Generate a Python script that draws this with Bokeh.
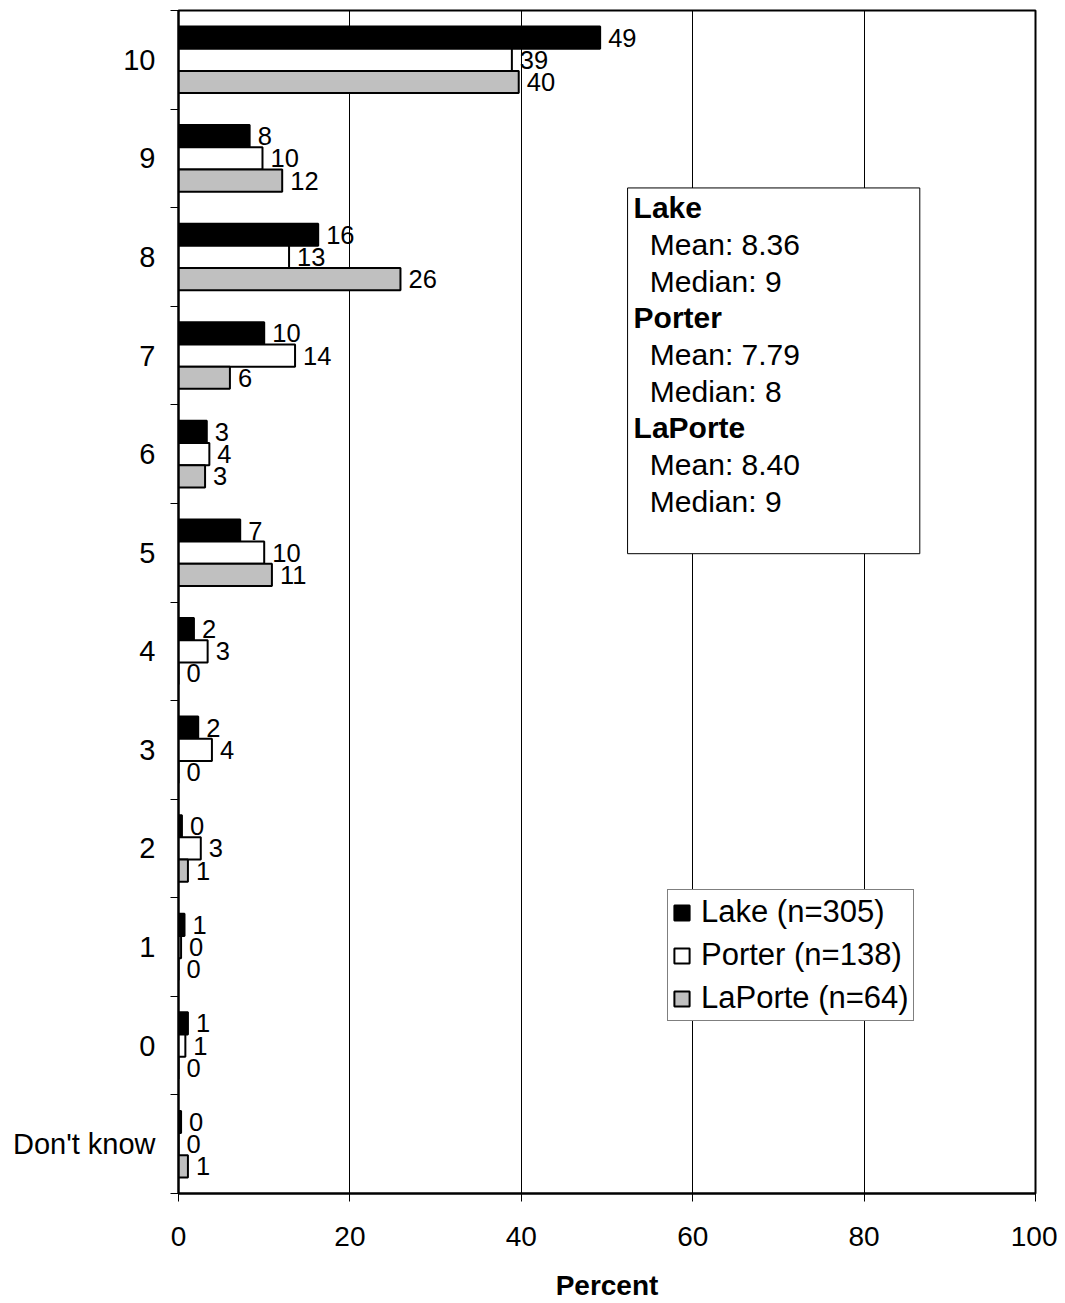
from bokeh.plotting import figure
from bokeh.models import (FixedTicker, Legend, LegendItem, BoxAnnotation, Label,
                          ColumnDataSource, Range1d)
from bokeh.core.properties import value
from bokeh.embed import file_html
from bokeh.resources import INLINE

# ---- data (top to bottom as in the chart) ----
categories = ["10", "9", "8", "7", "6", "5", "4", "3", "2", "1", "0", "Don't know"]
lake = [49.2, 8.3, 16.3, 10.0, 3.3, 7.2, 1.8, 2.3, 0.4, 0.7, 1.1, 0.3]
porter = [38.9, 9.8, 12.9, 13.6, 3.6, 10.0, 3.4, 3.9, 2.6, 0.3, 0.8, 0.0]
laporte = [39.7, 12.1, 25.9, 6.0, 3.1, 10.9, 0.0, 0.0, 1.1, 0.0, 0.0, 1.1]
lake_labels = ["49", "8", "16", "10", "3", "7", "2", "2", "0", "1", "1", "0"]
porter_labels = ["39", "10", "13", "14", "4", "10", "3", "4", "3", "0", "1", "0"]
laporte_labels = ["40", "12", "26", "6", "3", "11", "0", "0", "1", "0", "0", "1"]
series_names = ["Lake (n=305)", "Porter (n=138)", "LaPorte (n=64)"]
stats_lines = [("Lake", True), ("Mean: 8.36", False), ("Median: 9", False),
               ("Porter", True), ("Mean: 7.79", False), ("Median: 8", False),
               ("LaPorte", True), ("Mean: 8.40", False), ("Median: 9", False)]
x_ticks = [0, 20, 40, 60, 80, 100]

FONT = "Liberation Sans"
n = len(categories)
ypos = [n - 1 - i for i in range(n)]  # top category highest
off = 0.225
bar_h = 0.225

p = figure(width=1057, height=1303, output_backend="svg", toolbar_location=None,
           x_range=Range1d(0, 100), y_range=Range1d(-0.5, n - 0.5),
           min_border_left=178, min_border_right=22, min_border_top=10,
           min_border_bottom=110)
p.outline_line_color = "black"
p.outline_line_width = 2
p.background_fill_color = "white"
p.border_fill_color = "white"

colors = ["black", "white", "#c0c0c0"]
vals = [lake, porter, laporte]
labs = [lake_labels, porter_labels, laporte_labels]
offsets = [off, 0.0, -off]
renderers = []
for v, lab, c, o in zip(vals, labs, colors, offsets):
    src = ColumnDataSource(dict(y=[yy + o for yy in ypos], right=v, lab=lab))
    r = p.hbar(y="y", left=0, right="right", height=bar_h, source=src,
               fill_color=c, line_color="black", line_width=2)
    renderers.append(r)
    p.text(x="right", y="y", text="lab", source=src, x_offset=8,
           text_align="left", text_baseline="middle",
           text_font=value(FONT), text_font_size="25.5px", text_color="black")

# axes
p.xaxis.ticker = FixedTicker(ticks=x_ticks)
p.xaxis.axis_line_width = 2
p.xaxis.major_tick_out = 8
p.xaxis.major_tick_in = 0
p.xaxis.minor_tick_out = 0
p.xaxis.major_label_text_font = FONT
p.xaxis.major_label_text_font_size = "28px"
p.xaxis.major_label_text_color = "black"
p.xaxis.major_label_standoff = 25
p.xaxis.axis_label = "Percent"
p.xaxis.axis_label_text_font = FONT
p.xaxis.axis_label_text_font_style = "bold"
p.xaxis.axis_label_text_font_size = "28px"
p.xaxis.axis_label_text_color = "black"
p.xaxis.axis_label_standoff = 21

boundaries = [i - 0.5 for i in range(n + 1)]
p.yaxis.ticker = FixedTicker(ticks=ypos, minor_ticks=boundaries)
p.yaxis.major_label_overrides = {yy: c for yy, c in zip(ypos, categories)}
p.yaxis.axis_line_width = 2
p.yaxis.major_tick_out = 0
p.yaxis.major_tick_in = 0
p.yaxis.minor_tick_out = 8
p.yaxis.minor_tick_in = 0
p.yaxis.minor_tick_line_color = "black"
p.yaxis.major_label_text_font = FONT
p.yaxis.major_label_text_font_size = "29px"
p.yaxis.major_label_text_color = "black"
p.yaxis.major_label_standoff = 15

p.xgrid.ticker = FixedTicker(ticks=x_ticks)
p.xgrid.grid_line_color = "black"
p.xgrid.grid_line_width = 1
p.ygrid.grid_line_color = None

# stats box
box = BoxAnnotation(left=52.4, right=86.5, bottom=5.99, top=9.7,
                    fill_color="white", fill_alpha=1.0,
                    line_color="black", line_width=1, line_alpha=1.0)
p.add_layout(box)
for i, (txt, bold) in enumerate(stats_lines):
    lbl = Label(x=53.1 if bold else 55.0, y=9.5 - i * 0.372, text=txt,
                text_font=FONT, text_font_size="30px",
                text_font_style="bold" if bold else "normal",
                text_baseline="middle", text_align="left", text_color="black")
    p.add_layout(lbl)

# legend
legend = Legend(items=[LegendItem(label=nm, renderers=[r]) for nm, r in zip(series_names, renderers)],
                location=(489, 172), orientation="vertical",
                label_text_font=FONT, label_text_font_size="31px",
                label_text_color="black",
                glyph_width=19, glyph_height=19, label_height=32,
                label_standoff=10, spacing=7, padding=4, margin=0,
                border_line_color="black", border_line_width=1,
                background_fill_color="white", background_fill_alpha=1.0)
p.add_layout(legend)

open("out.html", "w").write(file_html(p, INLINE))
